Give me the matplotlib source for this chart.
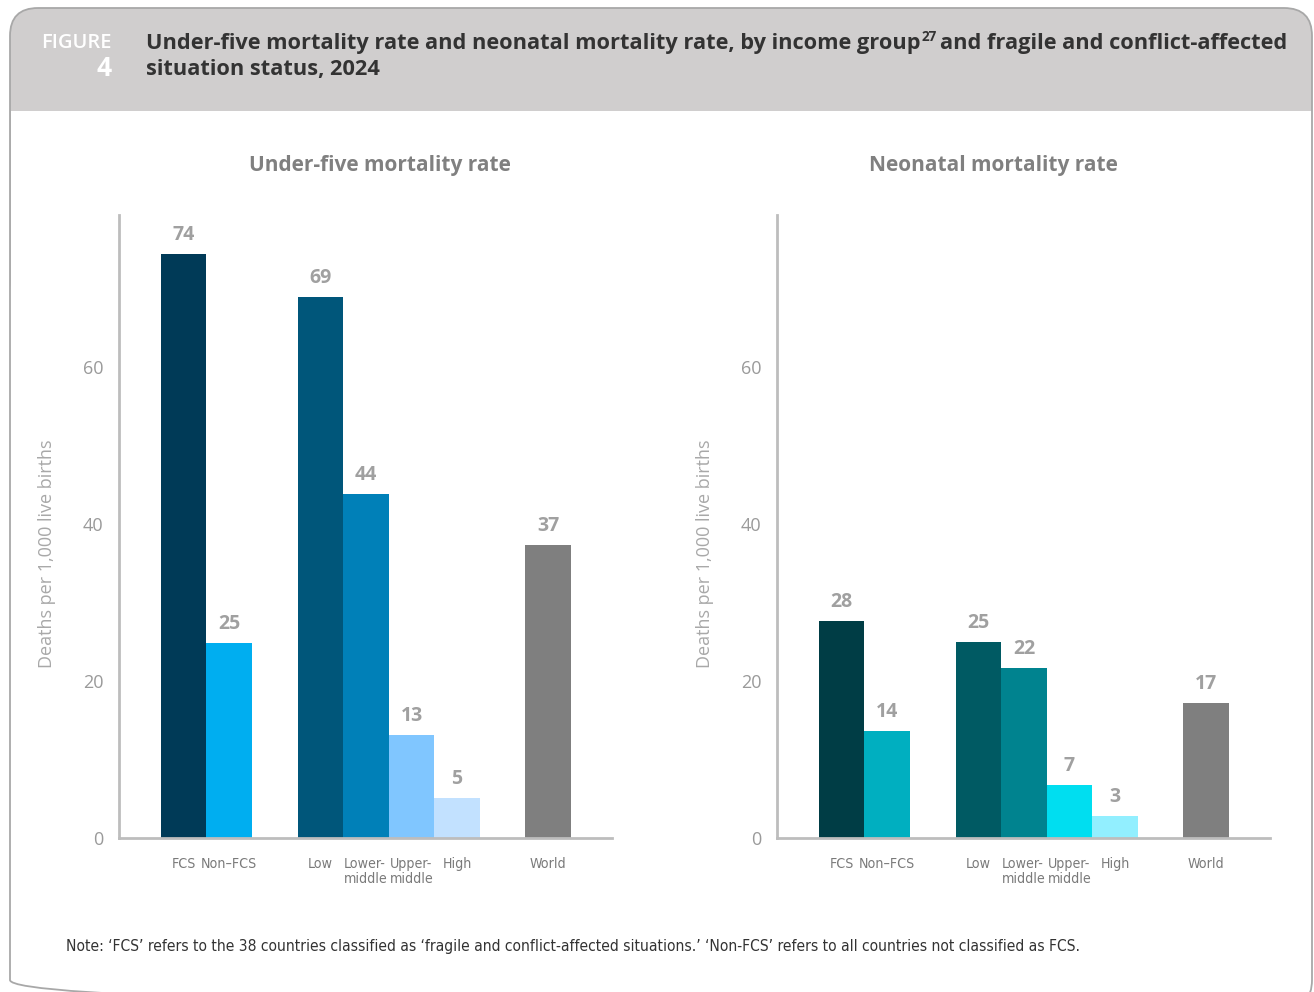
import matplotlib
matplotlib.use("Agg")
import matplotlib.pyplot as plt
from matplotlib import font_manager
from matplotlib.font_manager import FontProperties
from matplotlib.patches import FancyBboxPatch, Rectangle

# ---------------- data ----------------
categories = ["FCS", "Non\u2013FCS", "Low", "Lower-\nmiddle", "Upper-\nmiddle", "High", "World"]
positions = [0, 1, 3, 4, 5, 6, 8]
under5_values = [74.4, 24.8, 69.0, 43.9, 13.1, 5.1, 37.4]
neonatal_values = [27.6, 13.6, 25.0, 21.7, 6.8, 2.8, 17.2]
under5_labels = ["74", "25", "69", "44", "13", "5", "37"]
neonatal_labels = ["28", "14", "25", "22", "7", "3", "17"]
under5_colors = ["#003a57", "#00aef0", "#00567a", "#0080b8", "#80c6ff", "#c2e1ff", "#7f7f7f"]
neonatal_colors = ["#003d45", "#00afc0", "#005a63", "#00838f", "#00def0", "#92efff", "#7f7f7f"]
yticks = [0, 20, 40, 60]

W, H = 1314, 992
fig = plt.figure(figsize=(W / 100, H / 100), dpi=100)

avail = {f.name for f in font_manager.fontManager.ttflist}
def pick(names):
    for n in names:
        if n in avail:
            return n
    return "DejaVu Sans"
SANS = pick(["Open Sans", "Noto Sans", "DejaVu Sans"])

# find a condensed face if one is installed
cond_entry = None
for pref in ["Noto Sans", "Open Sans", "Roboto", "DejaVu Sans", "Liberation Sans Narrow", "Lato", "Inter"]:
    for f in font_manager.fontManager.ttflist:
        st = str(f.stretch).lower()
        fn = f.fname.lower()
        if f.name == pref and (st in ("condensed", "semi-condensed", "extra-condensed") or "condensed" in fn or "narrow" in fn) \
                and str(f.weight) in ("400", "normal", "regular", "book") and f.style == "normal":
            cond_entry = f
            break
    if cond_entry:
        break
if cond_entry is not None:
    COND = FontProperties(fname=cond_entry.fname)
    CSCALE = 1.0
else:
    COND = FontProperties(family="Roboto")
    CSCALE = 0.9

def cprop(size):
    p = COND.copy()
    p.set_size(size * CSCALE)
    return p

# ---------------- background frame ----------------
bg = fig.add_axes([0, 0, 1, 1], zorder=-5)
bg.set_xlim(0, W)
bg.set_ylim(H, 0)
bg.axis("off")
bg.add_patch(FancyBboxPatch((10, 8), 1302, 300, boxstyle="round,pad=0,rounding_size=28",
                            facecolor="#d0cece", edgecolor="none", zorder=1))
bg.add_patch(Rectangle((10.5, 111), 1301, 900, facecolor="white", edgecolor="none", zorder=2))
bg.add_patch(FancyBboxPatch((10, 8), 1302, 1000, boxstyle="round,pad=0,rounding_size=28",
                            facecolor="none", edgecolor="#a8a8a8", linewidth=1.3, zorder=3))

bg.text(112, 43, "FIGURE", color="white", fontsize=14.5, family=SANS, weight="semibold",
        ha="right", va="center", zorder=4)
bg.text(112, 68, "4", color="white", fontsize=19, family=SANS, weight="bold", ha="right",
        va="center", zorder=4)

TS = 15.7
renderer = fig.canvas.get_renderer()
t1 = bg.text(146, 43, "Under-five mortality rate and neonatal mortality rate, by income group",
             color="#333333", fontsize=TS, family=SANS, weight="bold", ha="left", va="center", zorder=4)
ext = t1.get_window_extent(renderer)
sup = bg.text(ext.x1 + 1, 37, "27", color="#333333", fontsize=TS * 0.62, family=SANS, weight="bold",
              ha="left", va="center", zorder=4)
ext2 = sup.get_window_extent(renderer)
bg.text(ext2.x1 + 3, 43, "and fragile and conflict-affected", color="#333333", fontsize=TS,
        family=SANS, weight="bold", ha="left", va="center", zorder=4)
bg.text(146, 69, "situation status, 2024", color="#333333", fontsize=TS, family=SANS,
        weight="bold", ha="left", va="center", zorder=4)

bg.text(66, 946, "Note: \u2018FCS\u2019 refers to the 38 countries classified as \u2018fragile and conflict-affected situations.\u2019 \u2018Non-FCS\u2019 refers to all countries not classified as FCS.",
        color="#333333", fontproperties=cprop(11.2 if cond_entry is not None else 11.5),
        ha="left", va="center", zorder=4)


def panel(left_px, values, labels, colors, title, title_x):
    ax = fig.add_axes([left_px / W, 1 - 838 / H, 493 / W, 623 / H])
    ax.patch.set_alpha(0)
    ax.bar(positions, values, width=1.0, color=colors, linewidth=0)
    ax.set_xlim(-1.42, 9.40)
    ax.set_ylim(0, 79.4)
    for s in ["top", "right"]:
        ax.spines[s].set_visible(False)
    for s in ["left", "bottom"]:
        ax.spines[s].set_color("#bdbdbd")
        ax.spines[s].set_linewidth(2)
    ax.set_yticks(yticks)
    ax.set_yticklabels([str(t) for t in yticks], family=SANS, fontsize=13, color="#9a9a9a")
    ax.tick_params(axis="y", length=0, pad=11)
    ax.set_xticks(positions)
    ax.set_xticklabels(categories, fontproperties=cprop(10.2), color="#7a7a7a",
                       linespacing=1.05, va="top", multialignment="left")
    ax.tick_params(axis="x", length=0, pad=14)
    ax.set_ylabel("Deaths per 1,000 live births", family=SANS, fontsize=13, color="#a8a8a8")
    ax.yaxis.set_label_coords(-0.128, 0.456)
    for p, v, lab in zip(positions, values, labels):
        ax.annotate(lab, (p, v), xytext=(0, 9), textcoords="offset pixels", ha="center",
                    va="bottom", fontsize=14, weight="bold", color="#a0a0a0", family=SANS)
    bg.text(title_x, 166, title, ha="center", va="center", fontsize=15, weight="bold",
            color="#808080", family=SANS)
    return ax

panel(119, under5_values, under5_labels, under5_colors, "Under-five mortality rate", 380)
panel(777, neonatal_values, neonatal_labels, neonatal_colors, "Neonatal mortality rate", 993)

fig.savefig("out.png", dpi=100)
